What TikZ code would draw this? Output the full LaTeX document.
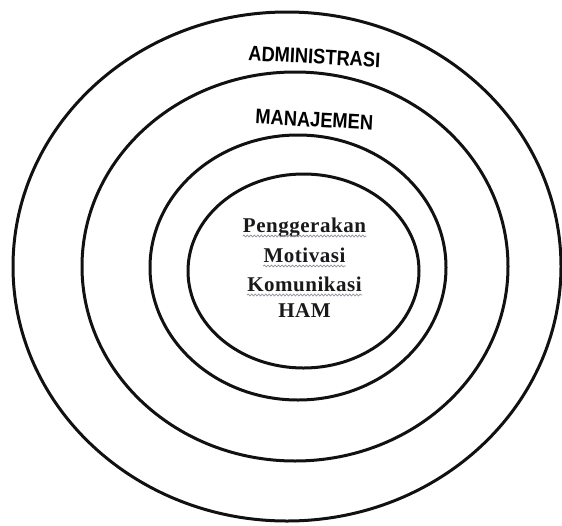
\documentclass[tikz,border=0pt]{standalone}
\usepackage{fontspec}
\newfontfamily\ringfont[FakeStretch=0.87]{Liberation Sans}
\newfontfamily\corefont[LetterSpace=2.5]{Liberation Serif}
\usetikzlibrary{decorations.pathmorphing}
\definecolor{ring}{HTML}{111111}
\definecolor{squiggle}{HTML}{8a8f99}

\begin{document}
\begin{tikzpicture}[
  x=1pt, y=-1pt,
  line cap=round, line join=round,
  every node/.style={inner sep=0pt},
  ring/.style={draw=ring, line width=3pt},
  ringlabel/.style={font=\ringfont\bfseries\fontsize{21}{21}\selectfont, anchor=base, rotate=-3},
  corelabel/.style={font=\corefont\bfseries\fontsize{21}{21}\selectfont, anchor=base, text=black!90},
  squiggle/.style={draw=squiggle, line width=0.7pt,
    decorate, decoration={snake, amplitude=1pt, segment length=3.5pt}},
]
\useasboundingbox (0,0) rectangle (562,525);
% the four rings
\draw[ring] (287,266.5) ellipse [x radius=274, y radius=254.5];
\draw[ring] (295,266.5) ellipse [x radius=213, y radius=194.5];
\draw[ring] (298,267.5) ellipse [x radius=148, y radius=132.5];
\draw[ring] (303.5,271) ellipse [x radius=115.5, y radius=97];
% ring labels
\node[ringlabel] (admin) at (314,64) {ADMINISTRASI};
\node[ringlabel] (manaj) at (314,127) {MANAJEMEN};
% core
\node[corelabel] (gerak) at (304.5,232) {Penggerakan};
\node[corelabel] (motiv) at (304.5,262) {Motivasi};
\node[corelabel] (komun) at (304.5,291) {Komunikasi};
\node[corelabel] (ham) at (304.5,317) {HAM};
\draw[squiggle] ([yshift=-4pt]gerak.base west) -- ([yshift=-4pt]gerak.base east);
\draw[squiggle] ([yshift=-4pt]motiv.base west) -- ([yshift=-4pt]motiv.base east);
\draw[squiggle] ([yshift=-4pt]komun.base west) -- ([yshift=-4pt]komun.base east);
\end{tikzpicture}
\end{document}
